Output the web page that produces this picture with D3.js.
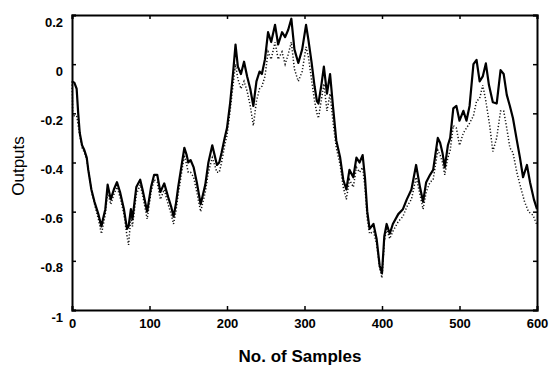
<!DOCTYPE html>
<html>
<head>
<meta charset="utf-8">
<script src="https://cdn.jsdelivr.net/npm/d3@7"></script>
<style>
  body { margin: 0; background: #fff; }
  svg { display: block; }
</style>
</head>
<body>
<div id="chart"></div>
<script>
// solid curve: sample index / output
var solidX = [0, 3, 6, 8, 10, 13, 16, 19, 21, 25, 29, 34, 38, 40, 43, 46, 50, 54, 58, 62, 67, 71, 73, 76, 78, 83, 88, 91, 97, 102, 106, 110, 114, 119, 124, 128, 131, 134, 137, 141, 145, 148, 150, 153, 157, 161, 166, 169, 172, 176, 181, 184, 187, 190, 193, 197, 200, 204, 208, 211, 214, 218, 222, 226, 230, 234, 238, 242, 245, 249, 253, 257, 262, 266, 271, 275, 279, 283, 287, 292, 297, 302, 305, 309, 313, 316, 318, 322, 325, 329, 333, 337, 341, 346, 350, 354, 358, 363, 367, 371, 375, 378, 381, 384, 389, 393, 397, 400, 403, 406, 410, 414, 421, 427, 432, 438, 444, 449, 453, 457, 462, 466, 472, 475, 478, 481, 485, 488, 492, 496, 500, 505, 509, 513, 518, 522, 526, 530, 534, 538, 543, 548, 553, 557, 561, 565, 569, 574, 578, 582, 587, 591, 596, 600];
var solidY = [-0.07, -0.075, -0.10, -0.20, -0.28, -0.33, -0.35, -0.38, -0.43, -0.51, -0.56, -0.61, -0.66, -0.63, -0.59, -0.49, -0.55, -0.51, -0.48, -0.52, -0.59, -0.67, -0.66, -0.59, -0.63, -0.50, -0.47, -0.51, -0.60, -0.50, -0.45, -0.45, -0.52, -0.485, -0.54, -0.58, -0.62, -0.57, -0.50, -0.42, -0.34, -0.37, -0.40, -0.39, -0.42, -0.48, -0.57, -0.53, -0.49, -0.40, -0.33, -0.37, -0.41, -0.40, -0.36, -0.30, -0.26, -0.16, -0.03, 0.08, -0.01, -0.04, 0.01, -0.05, -0.10, -0.17, -0.07, -0.03, -0.04, 0.02, 0.13, 0.09, 0.16, 0.08, 0.13, 0.11, 0.14, 0.185, 0.06, 0.005, 0.06, 0.16, 0.10, 0.01, -0.09, -0.15, -0.16, -0.08, -0.01, -0.12, -0.04, -0.18, -0.31, -0.38, -0.47, -0.51, -0.43, -0.46, -0.38, -0.40, -0.37, -0.46, -0.60, -0.67, -0.65, -0.71, -0.82, -0.85, -0.70, -0.65, -0.69, -0.65, -0.61, -0.59, -0.55, -0.51, -0.41, -0.50, -0.56, -0.48, -0.45, -0.43, -0.30, -0.32, -0.36, -0.42, -0.33, -0.30, -0.18, -0.17, -0.23, -0.19, -0.23, -0.17, 0.00, 0.017, -0.07, -0.05, 0.003, -0.085, -0.155, -0.16, -0.024, -0.04, -0.125, -0.17, -0.22, -0.31, -0.38, -0.46, -0.41, -0.48, -0.55, -0.59];

// dotted curve: sample index / output
var dottedX = [0, 1, 6, 9, 13, 16, 19, 22, 26, 30, 34, 38, 40, 43, 46, 50, 54, 58, 62, 67, 71, 73, 76, 78, 83, 88, 91, 97, 102, 106, 110, 114, 119, 124, 128, 131, 134, 137, 141, 145, 148, 150, 153, 157, 161, 166, 169, 172, 176, 181, 184, 187, 190, 193, 197, 200, 204, 208, 211, 214, 218, 222, 226, 230, 234, 238, 242, 245, 249, 253, 257, 262, 266, 271, 275, 279, 283, 287, 292, 297, 302, 305, 309, 313, 316, 318, 322, 325, 329, 333, 337, 341, 346, 350, 354, 358, 363, 367, 371, 375, 378, 381, 384, 389, 393, 397, 400, 403, 406, 410, 414, 421, 427, 432, 438, 444, 449, 453, 457, 462, 466, 472, 475, 478, 481, 485, 488, 492, 496, 500, 505, 509, 513, 518, 522, 526, 530, 534, 539, 543, 548, 553, 557, 561, 565, 569, 574, 578, 584, 589, 595, 600];
var dottedY = [-0.07, -0.21, -0.21, -0.27, -0.34, -0.36, -0.39, -0.45, -0.53, -0.58, -0.63, -0.69, -0.66, -0.61, -0.52, -0.57, -0.53, -0.50, -0.54, -0.61, -0.70, -0.735, -0.62, -0.66, -0.53, -0.49, -0.53, -0.63, -0.52, -0.47, -0.48, -0.55, -0.51, -0.57, -0.61, -0.65, -0.60, -0.53, -0.45, -0.37, -0.41, -0.44, -0.44, -0.46, -0.52, -0.60, -0.56, -0.52, -0.44, -0.38, -0.41, -0.44, -0.44, -0.40, -0.33, -0.29, -0.19, -0.08, 0.00, -0.06, -0.10, -0.07, -0.11, -0.17, -0.25, -0.15, -0.10, -0.09, -0.05, 0.05, 0.02, 0.09, 0.02, 0.05, 0.00, 0.04, 0.09, -0.02, -0.07, -0.03, 0.07, 0.03, -0.06, -0.15, -0.20, -0.22, -0.14, -0.08, -0.19, -0.12, -0.24, -0.34, -0.41, -0.50, -0.55, -0.47, -0.50, -0.42, -0.44, -0.42, -0.50, -0.63, -0.69, -0.68, -0.73, -0.83, -0.87, -0.72, -0.67, -0.71, -0.68, -0.64, -0.62, -0.58, -0.55, -0.46, -0.53, -0.59, -0.52, -0.48, -0.47, -0.35, -0.37, -0.40, -0.45, -0.38, -0.35, -0.25, -0.26, -0.33, -0.28, -0.26, -0.24, -0.21, -0.15, -0.14, -0.085, -0.15, -0.25, -0.355, -0.30, -0.19, -0.19, -0.26, -0.34, -0.36, -0.44, -0.49, -0.56, -0.60, -0.615, -0.655];

var xTicks = [0, 100, 200, 300, 400, 500, 600];
var yTicks = [0.2, 0, -0.2, -0.4, -0.6, -0.8, -1];

var width = 550, height = 375;
var plotLeft = 72, plotRight = 537, plotTop = 15, plotBottom = 310;

var svg = d3.select("#chart")
    .append("svg")
    .attr("width", width)
    .attr("height", height);

var x = d3.scaleLinear().domain([0, 600]).range([plotLeft, plotRight]);
var y = d3.scaleLinear().domain([-1, 0.2]).range([plotBottom, plotTop]);

var line = d3.line()
    .x(function (d) { return x(d[0]); })
    .y(function (d) { return y(d[1]); });

var solid = solidX.map(function (v, i) { return [v, solidY[i]]; });
var dotted = dottedX.map(function (v, i) { return [v, dottedY[i]]; });

// dotted goes under the solid one
svg.append("path")
    .attr("d", line(dotted))
    .attr("fill", "none")
    .attr("stroke", "#111")
    .attr("stroke-width", 1.5)
    .attr("stroke-dasharray", "1.2,2");

svg.append("path")
    .attr("d", line(solid))
    .attr("fill", "none")
    .attr("stroke", "#000")
    .attr("stroke-width", 2.2)
    .attr("stroke-linejoin", "round");

// axes, ticks pointing inward (box on all sides)
// plain hyphen for negatives like the original
var fmt = function (d) { return String(+d.toFixed(1)); };

var gx = svg.append("g")
    .attr("transform", "translate(0," + plotBottom + ")")
    .call(d3.axisBottom(x).tickValues(xTicks).tickSize(-4).tickPadding(9).tickFormat(d3.format("d")));

var gy = svg.append("g")
    .attr("transform", "translate(" + plotLeft + ",0)")
    .call(d3.axisLeft(y).tickValues(yTicks).tickSize(-4).tickPadding(9).tickFormat(fmt));

svg.append("g")
    .attr("transform", "translate(0," + plotTop + ")")
    .call(d3.axisTop(x).tickValues(xTicks).tickSize(-4).tickFormat(""));

svg.append("g")
    .attr("transform", "translate(" + plotRight + ",0)")
    .call(d3.axisRight(y).tickValues(yTicks).tickSize(-4).tickFormat(""));

svg.selectAll(".domain")
    .attr("stroke", "#000")
    .attr("stroke-width", 2);
svg.selectAll(".tick line")
    .attr("stroke", "#000")
    .attr("stroke-width", 1.5);

gx.selectAll("text")
    .attr("font-family", "Liberation Sans, Arial, sans-serif")
    .attr("font-size", 13)
    .attr("font-weight", "bold")
    .attr("fill", "#000");

gy.selectAll("text")
    .attr("font-family", "Liberation Sans, Arial, sans-serif")
    .attr("font-size", 13)
    .attr("font-weight", "bold")
    .attr("fill", "#000")
    .attr("dy", "0.85em");

// axis titles
svg.append("text")
    .attr("x", 300)
    .attr("y", 362)
    .attr("text-anchor", "middle")
    .attr("font-family", "Liberation Sans, Arial, sans-serif")
    .attr("font-size", 17)
    .attr("font-weight", "bold")
    .text("No. of Samples");

svg.append("text")
    .attr("transform", "translate(24,166) rotate(-90)")
    .attr("text-anchor", "middle")
    .attr("font-family", "Liberation Sans, Arial, sans-serif")
    .attr("font-size", 17)
    .text("Outputs");
</script>
</body>
</html>
